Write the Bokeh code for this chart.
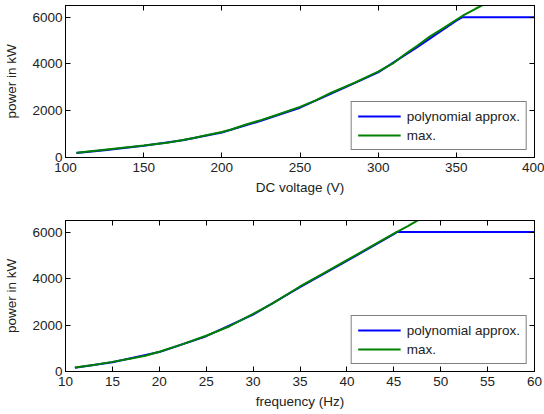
from bokeh.plotting import figure
from bokeh.layouts import column
from bokeh.models import LinearAxis, Range1d, FixedTicker, CustomJSTickFormatter
from bokeh.embed import file_html
from bokeh.resources import INLINE

# ---- data: top panel (DC voltage) ----
volt_max = [107, 125, 150, 165, 175, 182, 190, 200, 206, 215, 225, 235, 250, 260,
            270, 285, 300, 310, 318, 325, 333, 342, 350, 355, 362, 368]
power_volt_max = [200, 330, 516, 630, 750, 830, 950, 1090, 1200, 1400, 1600, 1820, 2165, 2440,
                  2770, 3200, 3670, 4050, 4460, 4780, 5170, 5540, 5890, 6100, 6350, 6560]
volt_poly = [107, 125, 150, 175, 200, 225, 250, 275, 300, 325, 350, 354, 400]
power_volt_poly = [190, 315, 500, 740, 1070, 1570, 2130, 2880, 3640, 4720, 5850, 6000, 6000]

# ---- data: bottom panel (frequency) ----
freq_max = [11, 13, 15, 17, 18.5, 20, 22.5, 25, 27.5, 30, 32, 35, 37.5, 40, 42.5, 45, 46.5, 47.6]
power_freq_max = [170, 280, 414, 560, 680, 850, 1180, 1540, 1950, 2480, 2910, 3660, 4220, 4790,
                  5360, 5930, 6260, 6520]
freq_poly = [11, 15, 20, 25, 30, 35, 40, 45, 45.3, 60]
power_freq_poly = [165, 400, 835, 1520, 2450, 3630, 4760, 5910, 6000, 6000]

y_ticks = [0, 2000, 4000, 6000]
volt_ticks = [100, 150, 200, 250, 300, 350, 400]
freq_ticks = [10, 15, 20, 25, 30, 35, 40, 45, 50, 55, 60]

FONT = "Liberation Sans"
FS = "13.5px"
TXT = "#222222"
BLUE = "#0000FF"
GREEN = "#008000"


def style_axis(ax, ticks, show_labels=True):
    ax.ticker = FixedTicker(ticks=ticks)
    ax.major_tick_in = 5
    ax.major_tick_out = 0
    ax.minor_tick_in = 0
    ax.minor_tick_out = 0
    ax.axis_line_color = "black"
    ax.major_tick_line_color = "black"
    ax.major_label_text_font = FONT
    ax.major_label_text_color = TXT
    ax.major_label_text_font_size = FS
    ax.axis_label_text_font = FONT
    ax.axis_label_text_color = TXT
    ax.axis_label_text_font_style = "normal"
    ax.axis_label_text_font_size = FS
    if show_labels:
        ax.major_label_standoff = 5
    else:
        ax.formatter = CustomJSTickFormatter(code="return '';")
        ax.major_label_standoff = 0


def make_panel(xs_poly, ys_poly, xs_max, ys_max, xr, xticks, xlabel, top_b, bot_b):
    p = figure(width=544, height=207, output_backend="svg", toolbar_location=None,
               x_range=Range1d(*xr), y_range=Range1d(0, 6500),
               min_border_left=65, min_border_right=10,
               min_border_top=top_b, min_border_bottom=bot_b)
    p.xgrid.visible = False
    p.ygrid.visible = False
    p.outline_line_color = "black"
    p.background_fill_color = "white"
    p.border_fill_color = "white"

    p.line(xs_poly, ys_poly, line_color=BLUE, line_width=2, legend_label="polynomial approx.")
    p.line(xs_max, ys_max, line_color=GREEN, line_width=2, legend_label="max.")

    style_axis(p.xaxis[0], xticks)
    style_axis(p.yaxis[0], y_ticks)
    p.yaxis[0].major_label_standoff = 3
    p.xaxis[0].axis_label = xlabel
    p.xaxis[0].axis_label_standoff = 5
    p.yaxis[0].axis_label = "power in kW"
    p.yaxis[0].axis_label_standoff = 10

    ax_top = LinearAxis()
    style_axis(ax_top, xticks, show_labels=False)
    p.add_layout(ax_top, "above")
    ax_right = LinearAxis()
    style_axis(ax_right, y_ticks, show_labels=False)
    p.add_layout(ax_right, "right")

    lg = p.legend[0]
    lg.location = "bottom_right"
    lg.border_line_color = "black"
    lg.border_line_width = 1
    lg.background_fill_color = "white"
    lg.background_fill_alpha = 1
    lg.label_text_font = FONT
    lg.label_text_font_size = FS
    lg.label_text_color = TXT
    lg.glyph_width = 43
    lg.glyph_height = 16
    lg.label_height = 16
    lg.spacing = 3
    lg.padding = 6
    lg.margin = 7
    lg.label_standoff = 6
    return p


p1 = make_panel(volt_poly, power_volt_poly, volt_max, power_volt_max, (100, 400),
                volt_ticks, "DC voltage (V)", 5, 50)
p2 = make_panel(freq_poly, power_freq_poly, freq_max, power_freq_max, (10, 60),
                freq_ticks, "frequency (Hz)", 13, 43)

layout = column(p1, p2, spacing=0)
open("out.html", "w").write(file_html(layout, INLINE))
